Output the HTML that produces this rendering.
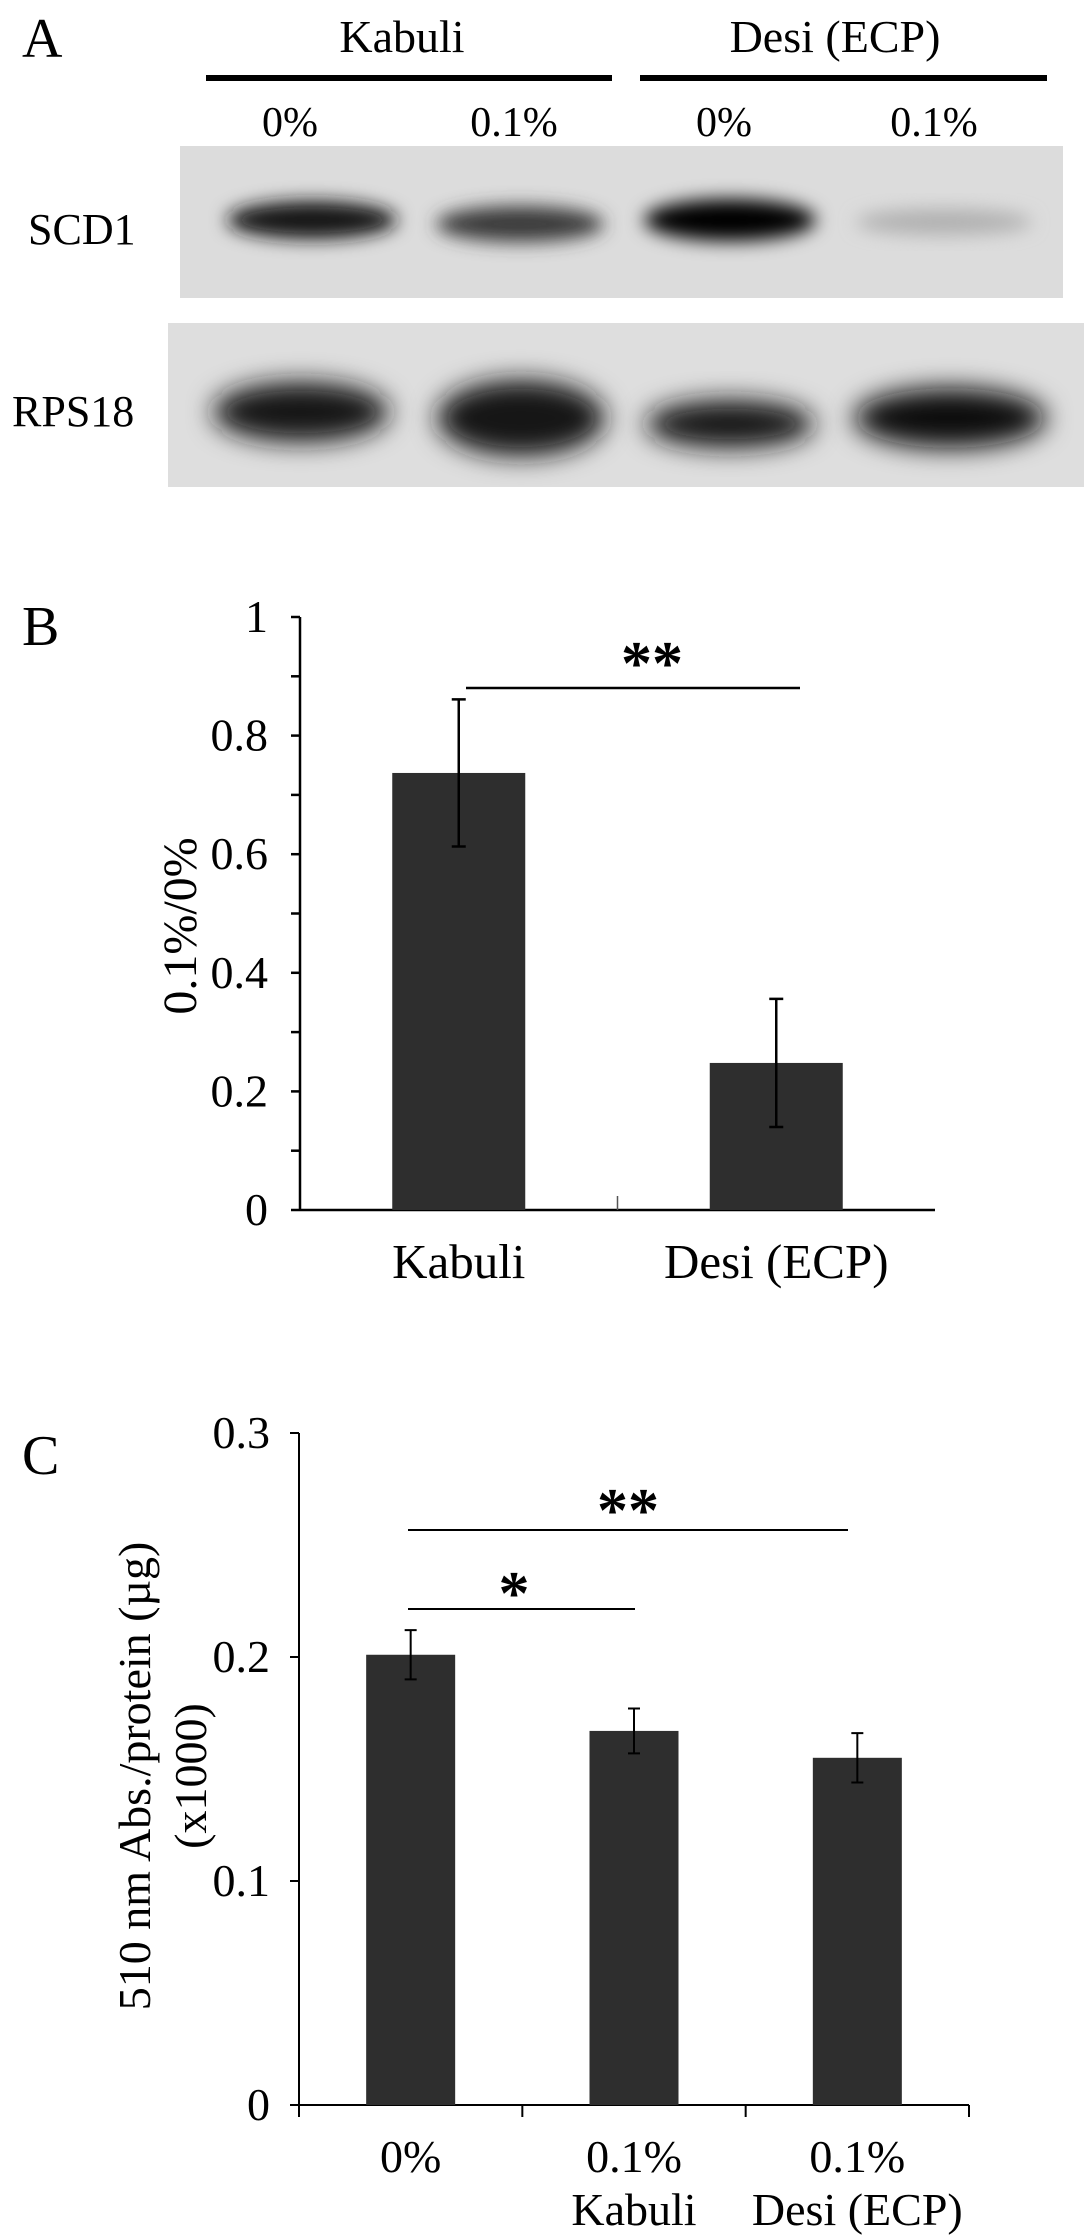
<!DOCTYPE html>
<html><head><meta charset="utf-8"><style>
html,body{margin:0;padding:0;background:#fff;}
svg{display:block;font-family:"Liberation Serif",serif;}
</style></head><body>
<svg id="fig" width="1087" height="2235" viewBox="0 0 1087 2235">
<defs>
<filter id="blur" x="-30%" y="-60%" width="160%" height="220%"><feGaussianBlur stdDeviation="9"/></filter>
<filter id="blur2" x="-30%" y="-60%" width="160%" height="220%"><feGaussianBlur stdDeviation="13"/></filter>
</defs>
<!-- Panel A -->
<text x="22" y="57" font-size="56">A</text>
<text x="402" y="52" font-size="46" text-anchor="middle">Kabuli</text>
<text x="835" y="52" font-size="46" text-anchor="middle">Desi (ECP)</text>
<rect x="206" y="75" width="406" height="6" fill="#000"/>
<rect x="640" y="75" width="407" height="6" fill="#000"/>
<g font-size="42" text-anchor="middle">
<text x="290" y="136">0%</text><text x="514" y="136">0.1%</text><text x="724" y="136">0%</text><text x="934" y="136">0.1%</text>
</g>
<text x="28" y="244" font-size="44">SCD1</text>
<text x="12" y="426" font-size="44">RPS18</text>
<g>
<rect x="180" y="146" width="883" height="152" fill="#dcdcdc"/>
<ellipse cx="312" cy="220" rx="85" ry="19" fill="#151515" filter="url(#blur)"/>
<ellipse cx="520" cy="224" rx="84" ry="18" fill="#3a3a3a" filter="url(#blur)"/>
<ellipse cx="730" cy="220" rx="86" ry="21" fill="#000" filter="url(#blur)"/>
<ellipse cx="944" cy="222" rx="88" ry="13" fill="#b0b0b0" filter="url(#blur)"/>
</g>
<g>
<rect x="168" y="323" width="916" height="164" fill="#dedede"/>
<ellipse cx="301" cy="412" rx="88" ry="30" fill="#181818" filter="url(#blur2)"/>
<ellipse cx="521" cy="418" rx="84" ry="38" fill="#141414" filter="url(#blur2)"/>
<ellipse cx="730" cy="424" rx="84" ry="24" fill="#181818" filter="url(#blur2)"/>
<ellipse cx="950" cy="418" rx="96" ry="30" fill="#080808" filter="url(#blur2)"/>
</g>
<!-- Panel B -->
<text x="22" y="645" font-size="56">B</text>
<g id="chartB"></g>
<!-- Panel C -->
<text x="22" y="1474" font-size="56">C</text>
<g id="chartC"></g>
</svg>
<script>
const bCategories = ["Kabuli", "Desi (ECP)"];
const bValues = [0.737, 0.248];
const bErrors = [0.124, 0.108];
const bTicks = ["0", "0.2", "0.4", "0.6", "0.8", "1"];

const cCategories = [["0%"], ["0.1%", "Kabuli"], ["0.1%", "Desi (ECP)"]];
const cValues = [0.201, 0.167, 0.155];
const cErrors = [0.011, 0.010, 0.011];
const cTicks = ["0", "0.1", "0.2", "0.3"];

const NS = "http://www.w3.org/2000/svg";
function mk(tag, attrs, parent, text) {
  const e = document.createElementNS(NS, tag);
  for (const k in attrs) e.setAttribute(k, attrs[k]);
  if (text !== undefined) e.textContent = text;
  parent.appendChild(e);
  return e;
}

// Chart B
(function () {
  const g = document.getElementById("chartB");
  const x0 = 300, x1 = 935, yTop = 617, yBot = 1210, vmax = 1;
  const y = v => yBot - (v / vmax) * (yBot - yTop);
  const band = (x1 - x0) / bCategories.length;
  const bw = 133;
  let el = mk("line", {x1: x0, y1: yTop, x2: x0, y2: yBot, stroke: "#000", "stroke-width": 2.5}, g);
  
  
  el = mk("line", {x1: x0, y1: yBot, x2: x1, y2: yBot, stroke: "#000", "stroke-width": 2.5}, g);
  
  
  mk("line", {x1: x0 + band, y1: yBot - 14, x2: x0 + band, y2: yBot, stroke: "#555", "stroke-width": 1.5}, g);
  for (let i = 0; i <= 10; i++) {
    mk("line", {x1: x0 - 9, y1: y(i / 10), x2: x0, y2: y(i / 10), stroke: "#000", "stroke-width": 2.5}, g);
  }
  bTicks.forEach(t => {
    el = mk("text", {x: 268, y: y(parseFloat(t)) + 15, "font-size": 46, "text-anchor": "end"}, g, t);
    
    
  });
  el = mk("text", {x: 0, y: 0, "font-size": 48, "text-anchor": "middle", transform: "translate(196,926) rotate(-90)"}, g, "0.1%/0%");
  
  
  bCategories.forEach((c, i) => {
    const cx = x0 + band * (i + 0.5);
    el = mk("rect", {x: cx - bw / 2, y: y(bValues[i]), width: bw, height: yBot - y(bValues[i]), fill: "#2e2e2e"}, g);
    
    
    const hi = y(bValues[i] + bErrors[i]), lo = y(bValues[i] - bErrors[i]);
    el = mk("path", {d: `M${cx},${hi}V${lo}M${cx - 7},${hi}H${cx + 7}M${cx - 7},${lo}H${cx + 7}`, stroke: "#000", "stroke-width": 2.5, fill: "none"}, g);
    
    
    el = mk("text", {x: cx, y: 1278, "font-size": 49, "text-anchor": "middle"}, g, c);
    
    
  });
  el = mk("line", {x1: 466, y1: 688, x2: 800, y2: 688, stroke: "#000", "stroke-width": 2.5}, g);
  
  
  el = mk("text", {x: 652, y: 684, "font-size": 62, "font-weight": "bold", "text-anchor": "middle"}, g, "**");
  
  
})();

// Chart C
(function () {
  const g = document.getElementById("chartC");
  const x0 = 299, x1 = 969, yTop = 1433, yBot = 2105, vmax = 0.3;
  const y = v => yBot - (v / vmax) * (yBot - yTop);
  const band = (x1 - x0) / cCategories.length;
  const bw = 89;
  let el = mk("line", {x1: x0, y1: yTop, x2: x0, y2: yBot, stroke: "#000", "stroke-width": 2}, g);
  
  
  el = mk("line", {x1: x0, y1: yBot, x2: x1, y2: yBot, stroke: "#000", "stroke-width": 2}, g);
  
  
  for (let i = 0; i <= cCategories.length; i++) {
    mk("line", {x1: x0 + band * i, y1: yBot, x2: x0 + band * i, y2: yBot + 12, stroke: "#000", "stroke-width": 2}, g);
  }
  cTicks.forEach(t => {
    const v = parseFloat(t);
    mk("line", {x1: x0 - 9, y1: y(v), x2: x0, y2: y(v), stroke: "#000", "stroke-width": 2}, g);
    el = mk("text", {x: 270, y: y(v) + 15, "font-size": 46, "text-anchor": "end"}, g, t);
    
    
  });
  el = mk("text", {x: 0, y: 0, "font-size": 46, "text-anchor": "middle", transform: "translate(150,1776) rotate(-90)"}, g, "510 nm Abs./protein (\u00b5g)");
  
  
  el = mk("text", {x: 0, y: 0, "font-size": 46, "text-anchor": "middle", transform: "translate(206,1776) rotate(-90)"}, g, "(x1000)");
  
  
  cCategories.forEach((c, i) => {
    const cx = x0 + band * (i + 0.5);
    el = mk("rect", {x: cx - bw / 2, y: y(cValues[i]), width: bw, height: yBot - y(cValues[i]), fill: "#2e2e2e"}, g);
    
    
    const hi = y(cValues[i] + cErrors[i]), lo = y(cValues[i] - cErrors[i]);
    el = mk("path", {d: `M${cx},${hi}V${lo}M${cx - 6},${hi}H${cx + 6}M${cx - 6},${lo}H${cx + 6}`, stroke: "#000", "stroke-width": 2, fill: "none"}, g);
    
    
    c.forEach((line, j) => {
      el = mk("text", {x: cx, y: 2172 + j * 53, "font-size": 46, "text-anchor": "middle"}, g, line);
      
      
    });
  });
  el = mk("line", {x1: 408, y1: 1530, x2: 848, y2: 1530, stroke: "#000", "stroke-width": 2}, g);
  
  
  el = mk("text", {x: 628, y: 1531, "font-size": 62, "font-weight": "bold", "text-anchor": "middle"}, g, "**");
  
  
  el = mk("line", {x1: 408, y1: 1609, x2: 635, y2: 1609, stroke: "#000", "stroke-width": 2}, g);
  
  
  el = mk("text", {x: 514, y: 1614, "font-size": 62, "font-weight": "bold", "text-anchor": "middle"}, g, "*");
  
  
})();
</script>
</body></html>
